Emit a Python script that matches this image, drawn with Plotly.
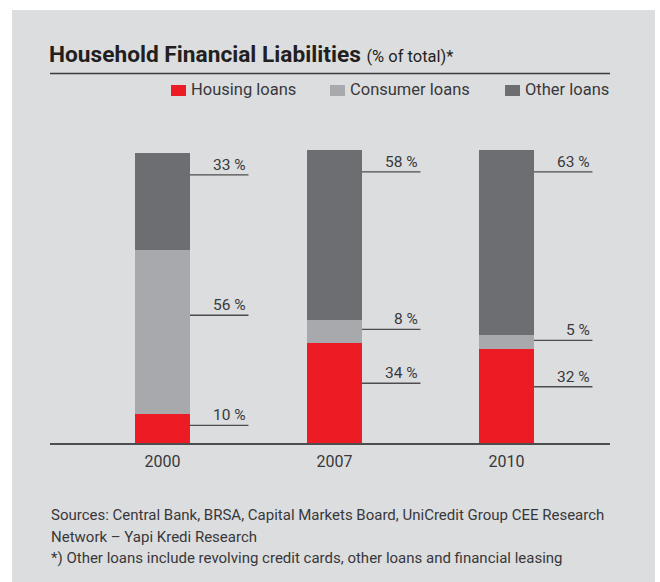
import plotly.graph_objects as go

years = ["2000", "2007", "2010"]
housing = [10, 34, 32]
consumer = [56, 8, 5]
other = [33, 58, 63]

series_names = ["Housing loans", "Consumer loans", "Other loans"]
series_colors = ["#ed1c24", "#a7a9ac", "#6d6e71"]

footnotes = [
    "Sources: Central Bank, BRSA, Capital Markets Board, UniCredit Group CEE Research",
    "Network – Yapi Kredi Research",
    "*) Other loans include revolving credit cards, other loans and financial leasing",
]

FONT = "Roboto"
TEXT = "#38383a"

W, H = 660, 582
L, R, T, B = 50, 50, 130, 139
PW, PH = W - L - R, H - T - B


def px(x, y):
    # figure pixel -> paper coords
    return (x - L) / PW, (H - B - y) / PH


fig = go.Figure()
for name, vals, col in zip(series_names, [housing, consumer, other], series_colors):
    fig.add_trace(
        go.Bar(
            x=years,
            y=vals,
            name=name,
            marker=dict(color=col, line=dict(width=0)),
            width=0.32,
            showlegend=False,
            hoverinfo="skip",
        )
    )

shapes = []
annotations = []

# grey panel
x0, y0 = px(12, 10)
x1, y1 = px(655, 590)
shapes.append(
    dict(type="rect", xref="paper", yref="paper", x0=x0, y0=y0, x1=x1, y1=y1,
         fillcolor="#dcdddf", line=dict(width=0), layer="below")
)

# leader lines + value labels
for i, yr in enumerate(years):
    segs = [housing[i], consumer[i], other[i]]
    total = sum(segs)
    base = 0
    for j, v in enumerate(segs):
        if j == len(segs) - 1:
            ly = total - 7.5
        else:
            ly = base + 0.6 * v
        base += v
        shapes.append(
            dict(type="line", xref="x", yref="y", x0=i + 0.16, x1=i + 0.5,
                 y0=ly, y1=ly, line=dict(color="#4d4d4f", width=1.3))
        )
        annotations.append(
            dict(x=i + 0.495, y=ly, xref="x", yref="y", text=f"{v} %",
                 showarrow=False, xanchor="right", yanchor="bottom",
                 yshift=-1, font=dict(family=FONT, size=15.5, color=TEXT))
        )

# title
tx, ty = px(47, 70)
annotations.append(
    dict(x=tx, y=ty, xref="paper", yref="paper", xanchor="left", yanchor="bottom",
         showarrow=False,
         text="<b>Household Financial Liabilities</b> "
              "<span style='font-size:16.5px'>(% of total)*</span>",
         font=dict(family=FONT, size=22.7, color="#231f20"))
)
ux0, uy = px(50, 73.5)
ux1, _ = px(610, 73.5)
shapes.append(
    dict(type="line", xref="paper", yref="paper", x0=ux0, x1=ux1, y0=uy, y1=uy,
         line=dict(color="#3a3a3c", width=1.5))
)

# legend
legend_pos = [(171, 191), (330, 350), (505, 525)]
for (sx, tx_), name, col in zip(legend_pos, series_names, series_colors):
    a0, b0 = px(sx, 85)
    a1, b1 = px(sx + 15, 96)
    shapes.append(
        dict(type="rect", xref="paper", yref="paper", x0=a0, x1=a1, y0=b0, y1=b1,
             fillcolor=col, line=dict(width=0))
    )
    lx, ly = px(tx_ - 2, 90)
    annotations.append(
        dict(x=lx, y=ly, xref="paper", yref="paper", xanchor="left", yanchor="middle",
             showarrow=False, text=name, font=dict(family=FONT, size=16.5, color=TEXT))
    )

# footnote, one line each
for k, line in enumerate(footnotes):
    fx, fy = px(49, 526 + 21.5 * k)
    annotations.append(
        dict(x=fx, y=fy, xref="paper", yref="paper", xanchor="left", yanchor="bottom",
             align="left", showarrow=False, text=line,
             font=dict(family=FONT, size=15, color=TEXT))
    )

fig.update_layout(
    width=W,
    height=H,
    barmode="stack",
    bargap=0,
    margin=dict(l=L, r=R, t=T, b=B, pad=0),
    paper_bgcolor="white",
    plot_bgcolor="rgba(0,0,0,0)",
    shapes=shapes,
    annotations=annotations,
    showlegend=False,
)
fig.update_xaxes(
    type="category",
    range=[-0.654, 2.602],
    showline=True,
    linecolor="#4d4d4f",
    linewidth=1.5,
    showgrid=False,
    zeroline=False,
    ticks="",
    ticklabelstandoff=3,
    tickfont=dict(family=FONT, size=16, color=TEXT),
)
fig.update_yaxes(range=[0, PH / 2.93], visible=False, showgrid=False, zeroline=False)

fig.write_html(
    "out.html",
    config={"displayModeBar": False},
    post_script="document.body.style.margin='0';",
)
